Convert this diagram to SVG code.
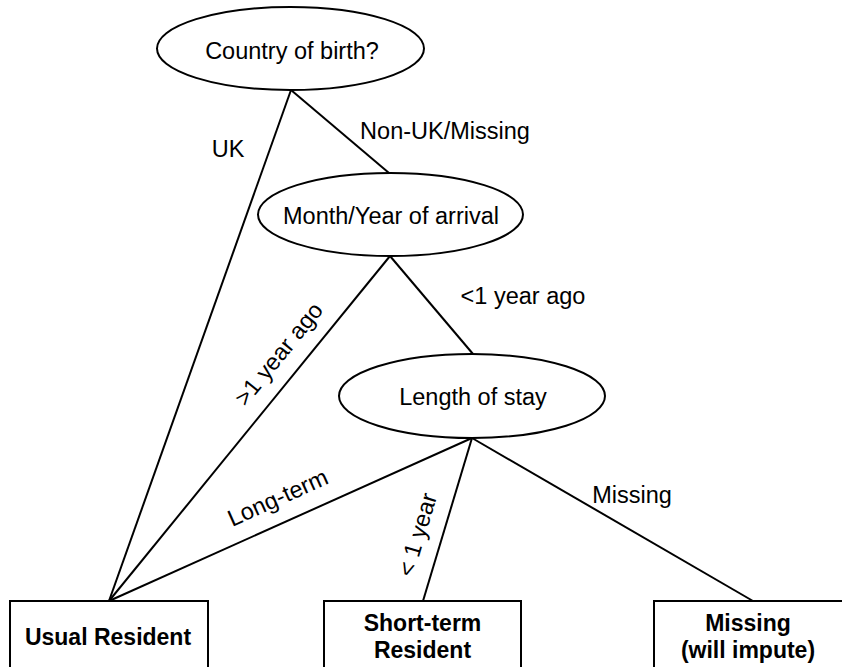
<svg xmlns="http://www.w3.org/2000/svg" width="842" height="667" viewBox="0 0 842 667">
<style>
.shape{fill:#fff;stroke:#000;stroke-width:2}
.edge{stroke:#000;stroke-width:2;fill:none}
.t{font-family:"Liberation Sans",Arial,sans-serif;font-size:23.5px;fill:#000;text-anchor:middle}
.b{font-weight:bold;font-size:23px}
</style>
<rect width="842" height="667" fill="#fff"/>
<g id="connectors">
<line class="edge" x1="291" y1="90" x2="109" y2="601"/>
<line class="edge" x1="291" y1="90" x2="389" y2="173"/>
<line class="edge" x1="390" y1="256" x2="109" y2="601"/>
<line class="edge" x1="390" y1="256" x2="473" y2="354"/>
<line class="edge" x1="472" y1="438" x2="109" y2="601"/>
<line class="edge" x1="472" y1="438" x2="423" y2="601"/>
<line class="edge" x1="472" y1="438" x2="753" y2="601"/>
<text class="t" x="228" y="157">UK</text>
<text class="t" x="445" y="139">Non-UK/Missing</text>
<text class="t" x="523" y="304">&lt;1 year ago</text>
<text class="t" transform="translate(285,359) rotate(-51)">&gt;1 year ago</text>
<text class="t" transform="translate(281,505) rotate(-24.2)">Long-term</text>
<text class="t" transform="translate(425,537) rotate(-73.3)">&lt; 1 year</text>
<text class="t" x="632" y="503">Missing</text>
</g>
<g id="country">
<ellipse class="shape" cx="290.5" cy="48.5" rx="133.5" ry="41.5"/>
<text class="t" x="292" y="59">Country of birth?</text>
</g>
<g id="arrival">
<ellipse class="shape" cx="390.5" cy="214.5" rx="132.5" ry="41.5"/>
<text class="t" x="391" y="224">Month/Year of arrival</text>
</g>
<g id="stay">
<ellipse class="shape" cx="472" cy="396" rx="133" ry="42"/>
<text class="t" x="473" y="405">Length of stay</text>
</g>
<g id="usual">
<rect class="shape" x="10" y="601" width="198" height="80"/>
<text class="t b" x="108" y="645">Usual Resident</text>
</g>
<g id="shortterm">
<rect class="shape" x="324" y="601" width="197" height="80"/>
<text class="t b" x="422.5" y="631">Short-term</text>
<text class="t b" x="422.5" y="658">Resident</text>
</g>
<g id="missing">
<rect class="shape" x="654" y="601" width="200" height="80"/>
<text class="t b" x="748" y="631">Missing</text>
<text class="t b" x="748" y="658">(will impute)</text>
</g>
</svg>
